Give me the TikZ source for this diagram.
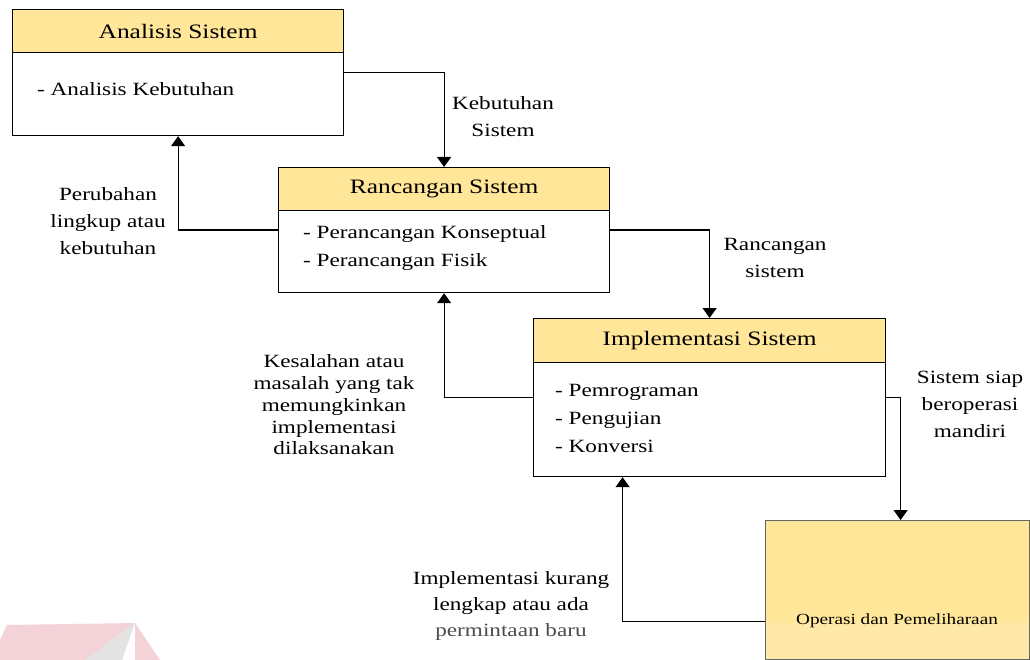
\documentclass[tikz,border=0pt]{standalone}
\usepackage{fontspec}
\usepackage{graphicx}
\setmainfont{Liberation Serif}
\usetikzlibrary{arrows.meta}
\definecolor{hdr}{HTML}{FFE699}
\definecolor{olow}{HTML}{FFE8A8}
\definecolor{wpink}{HTML}{F3D3D8}
\definecolor{wgrey}{HTML}{E3E3E3}
\newcommand{\sx}[1]{\scalebox{1.24}[1]{#1}}
\newcommand{\stk}[2][c]{\sx{\begin{tabular}{@{}#1@{}}#2\end{tabular}}}
\tikzset{
  boxbody/.style={draw=black, line width=1.2pt, fill=white, rectangle, anchor=north west, inner sep=0pt},
  boxhead/.style={draw=black, line width=1.2pt, fill=hdr, rectangle, anchor=north west, inner sep=0pt, font=\fontsize{20.5}{24}\selectfont},
  bodytext/.style={anchor=west, align=left, inner sep=0pt, font=\fontsize{18.7}{28}\selectfont},
  lbl/.style={align=center, inner sep=0pt, font=\fontsize{18.7}{27}\selectfont},
  arr/.style={line width=1.2pt, -{Triangle[width=14pt,length=10pt]}},
}
\begin{document}
\begin{tikzpicture}[x=1pt,y=-1pt]
\useasboundingbox (0,0) rectangle (1030,660);
% watermark corner
\fill[wpink] (0,640) -- (7,625) -- (135,623) -- (85,660) -- (0,660) -- cycle;
\fill[wgrey] (135,623) -- (85,660) -- (122,660) -- cycle;
\fill[wpink] (135,623) -- (160,660) -- (135,660) -- cycle;

% Analisis Sistem
\node[boxbody, minimum width=331pt, minimum height=126pt] (A) at (12,9) {};
\node[boxhead, minimum width=331pt, minimum height=43pt] (Ah) at (12,9) {\sx{Analisis Sistem}};
\node[bodytext] (At) at (37,89) {\sx{- Analisis Kebutuhan}};

% Rancangan Sistem
\node[boxbody, minimum width=331pt, minimum height=125pt] (R) at (278,167) {};
\node[boxhead, minimum width=331pt, minimum height=43pt] (Rh) at (278,167) {\sx{Rancangan Sistem}};
\node[bodytext] (Rt) at (303,247) {\stk[l]{- Perancangan Konseptual\\- Perancangan Fisik}};

% Implementasi Sistem
\node[boxbody, minimum width=352pt, minimum height=158pt] (I) at (533,318) {};
\node[boxhead, minimum width=352pt, minimum height=44pt] (Ih) at (533,318) {\sx{Implementasi Sistem}};
\node[bodytext] (It) at (555,419) {\stk[l]{- Pemrograman\\- Pengujian\\- Konversi}};

% Operasi dan Pemeliharaan
\fill[hdr] (765,520) rectangle (1029,623);
\fill[olow] (765,623) rectangle (1029,659);
\node[draw=black!60, line width=1.2pt, rectangle, anchor=north west, inner sep=0pt,
      minimum width=264pt, minimum height=139pt] (O) at (765,520) {};
\node[inner sep=0pt, font=\fontsize{15.5}{18}\selectfont] (Ot) at (897,621) {\sx{Operasi dan Pemeliharaan}};

% connectors
\draw[arr] (A.east) -| (R.north);
\draw[arr] (R.west) -| (A.south);
\draw[arr] (R.east) -| (I.north);
\draw[arr] (I.west) -| (R.south);
\draw[arr] (I.east) -| ([xshift=3pt]O.north);
\draw[arr] ([yshift=-31pt]O.west) -| ([xshift=-87pt]I.south);

% labels
\node[lbl] (l1) at (503,118) {\stk{Kebutuhan\\Sistem}};
\node[lbl] (l2) at (108,222) {\stk{Perubahan\\lingkup atau\\kebutuhan}};
\node[lbl] (l3) at (775,259) {\stk{Rancangan\\sistem}};
\node[lbl, font=\fontsize{18.7}{21.7}\selectfont] (l4) at (334,407) {\stk{Kesalahan atau\\masalah yang tak\\memungkinkan\\implementasi\\dilaksanakan}};
\node[lbl] (l5) at (970,405) {\stk{Sistem siap\\beroperasi\\mandiri}};
\node[lbl, font=\fontsize{18.7}{26}\selectfont] (l6) at (511,605) {\stk{Implementasi kurang\\lengkap atau ada\\\textcolor{black!70}{permintaan baru}}};
\end{tikzpicture}
\end{document}
